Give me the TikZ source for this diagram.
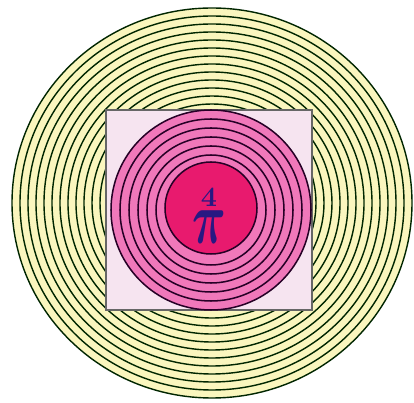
\documentclass[tikz,border=0pt]{standalone}
\usepackage{amsmath,amssymb,bm}
\usepackage{xcolor}
\usepackage{tikz}
\usetikzlibrary{positioning}
\definecolor{paleyellow}{RGB}{250,246,190}
\definecolor{ringpink}{RGB}{240,120,186}
\definecolor{corepink}{RGB}{232,26,110}
\definecolor{squarepink}{RGB}{246,228,240}
\definecolor{inkblue}{RGB}{40,24,130}
\tikzset{
  yring/.style={fill=paleyellow,draw=black!85!green,line width=1.2pt},
  pring/.style={fill=ringpink,draw=black!70!violet,line width=1.3pt},
}

\begin{document}
\begin{tikzpicture}[x=0.03cm,y=-0.03cm]
  \useasboundingbox[fill=white] (0,0) rectangle (414,403);
  \foreach \k in {0,...,12}{
    \draw[yring] (212,203) ellipse ({200-8*\k} and {195-8*\k});
  }
  \draw[fill=squarepink,draw=gray!80!black,line width=1.2pt] (106,110) rectangle (312,310);
  \foreach \k in {0,...,5}{
    \draw[pring] (211,210) circle ({100-9*\k});
  }
  \draw[fill=corepink,draw=black!70!violet,line width=1.3pt] (211,208) circle (46);
  \node[text=inkblue,inner sep=0pt,xscale=4,yscale=6.3] (pi) at (209,227) {$\bm{\pi}$};
  \node[text=inkblue,inner sep=0pt,scale=2.4,above=1.5pt of pi] (four) {$\bm{4}$};
\end{tikzpicture}
\end{document}
